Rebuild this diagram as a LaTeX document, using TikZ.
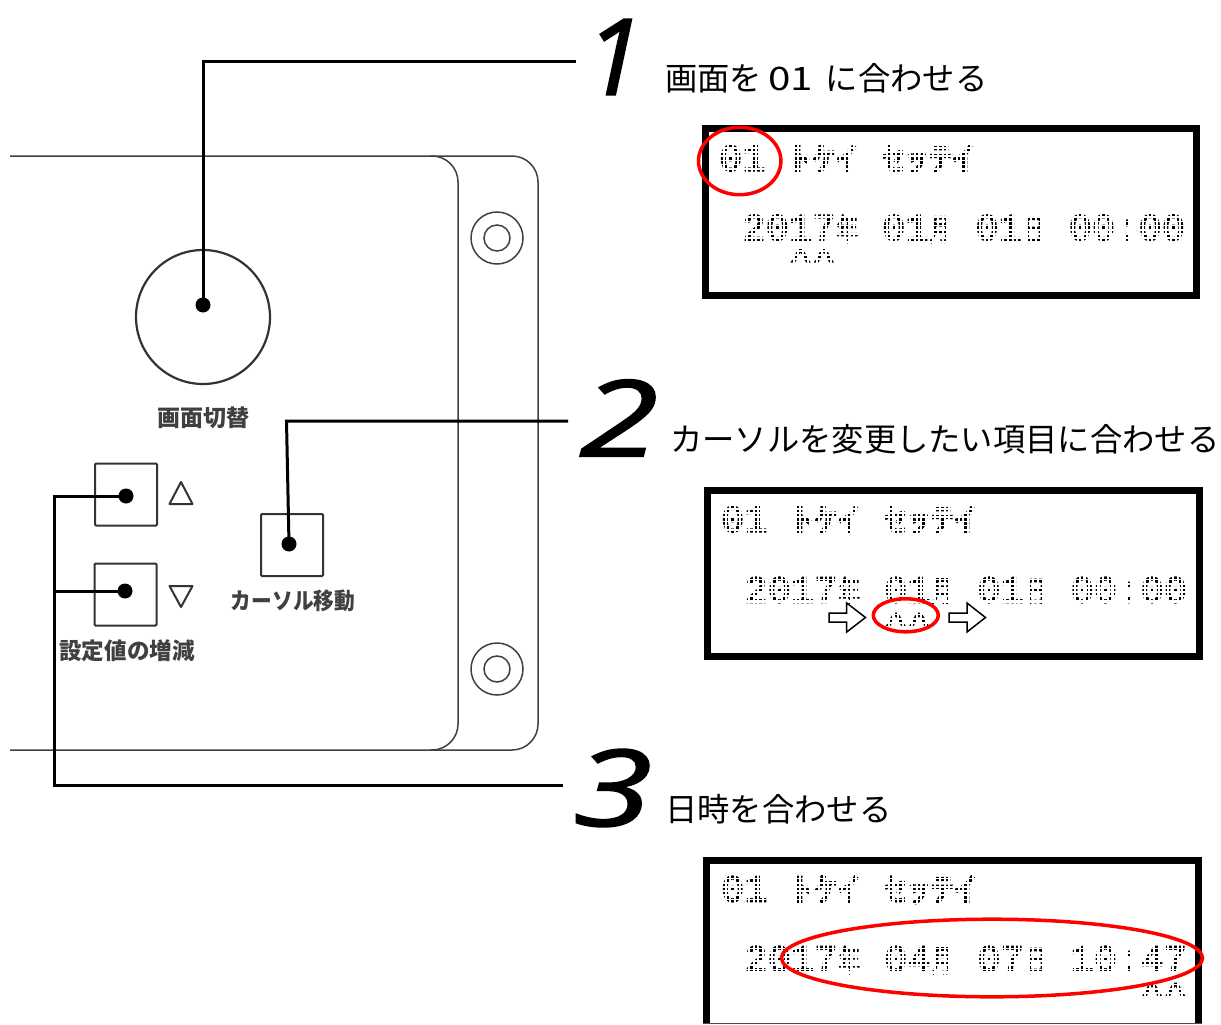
\documentclass[tikz,border=0pt]{standalone}
\usepackage{fontspec}
\usepackage{graphicx}
\setmainfont{Liberation Sans}
\newfontfamily\jpfont{Noto Sans CJK JP}
\newfontfamily\lcdjp[FakeBold=5]{Noto Sans CJK JP}
\newfontfamily\lcdmono[FakeBold=4]{Liberation Mono}
\newfontfamily\numfont[FakeBold=1.5]{Open Sans}
\newcommand{\wide}[1]{\scalebox{1.35}[1]{\fontsize{33}{33}\lcdjp #1}}
\newcommand{\kanji}[1]{\scalebox{0.72}[1]{\fontsize{30}{30}\lcdjp #1}}
\newcommand{\lcdrow}[4]{%
  \foreach \c/\t in {#4} {\node[lcdchar] (#1-\c) at ({#2+\c*23.3},{#3+12.5}) {\t};}}
\newcommand{\lcdcaret}[4]{%
  \foreach \c in {#4} {\node[lcdchar] (#1-\c) at ({#2+\c*23.3},{#3+15}) {\scalebox{1.35}[1]{\fontsize{28}{28}\lcdmono\textasciicircum}};}}
\newcommand{\lcdmask}[2]{%
  \foreach \k in {-1,...,99} {\draw[maskx] ({#1-2.33+\k*4.66},{#2-14}) -- ({#1-2.33+\k*4.66},{#2+14});}
  \foreach \k in {-4,...,3} {\draw[masky] ({#1-13},{#2+2.08+\k*4.17}) -- ({#1+455},{#2+2.08+\k*4.17});}}
\tikzset{
  lcdchar/.style={inner sep=0pt,outer sep=0pt,anchor=base,text=black,font=\fontsize{38}{38}\lcdmono},
  maskx/.style={white,line width=2.1pt},
  masky/.style={white,line width=1.7pt},
  lcdframe/.style={draw=black,line width=7pt,miter limit=10},
  redmark/.style={draw=red,line width=3.5pt},
  panel/.style={draw=black!75,line width=1.5pt,rounded corners=26pt},
  panelround/.style={draw=black!75,line width=1.5pt},
  btn/.style={draw=black!80,line width=2pt,rounded corners=1pt},
  tri/.style={draw=black!80,line width=2pt,line join=round},
  leader/.style={draw=black,line width=3pt,line join=miter},
  lead dot/.style={circle,fill=black,inner sep=0pt,minimum size=15pt},
  title/.style={inner sep=0pt,anchor=west,font=\fontsize{32.3}{33}\jpfont},
  caption/.style={inner sep=0pt,text=black!75,font=\fontsize{23}{24}\jpfont\bfseries},
  bignum/.style={inner sep=0pt,font=\fontsize{106}{106}\numfont\itshape},
  blockarrow/.style={draw=black,fill=white,line width=1.5pt,line join=miter}
}
\begin{document}
\begin{tikzpicture}[x=1pt,y=-1pt]
\useasboundingbox[fill=white] (0,0) rectangle (1221,1025);
% panel
\draw[panel] (10,156) -- (458,156) -- (458,750) -- (10,750);
\draw[panel] (430,156) -- (538,156) -- (538,750) -- (430,750);
\foreach \sy in {238,669} {
  \draw[panelround] (497,\sy) circle (26);
  \draw[panelround] (497,\sy) circle (13);
}
\draw[draw=black!80,line width=2.2pt] (203,317) circle (67);
\node[btn,minimum width=62pt,minimum height=62pt,inner sep=0pt] (btnup) at (126,494.5) {};
\node[btn,minimum width=62pt,minimum height=62pt,inner sep=0pt] (btndown) at (125.5,594.5) {};
\node[btn,minimum width=62pt,minimum height=62pt,inner sep=0pt] (btncur) at (292,545) {};
\draw[tri] (181,482) -- (192.5,504) -- (169.5,504) -- cycle;
\draw[tri] (181,607) -- (192.5,586) -- (169.5,586) -- cycle;
\node[caption] (capa) at (203.5,418) {画面切替};
\node[caption,xscale=0.9,transform shape] (capb) at (293,601) {カーソル移動};
\node[caption,xscale=0.98,transform shape] (capc) at (127,651) {設定値の増減};
% leaders
\node[lead dot] (dotscreen) at (203,305) {};
\node[lead dot] (dotup) at (126,496) {};
\node[lead dot] (dotdown) at (125,591) {};
\node[lead dot] (dotcur) at (289,544) {};
\coordinate (endone) at (576,62);
\coordinate (kneetwo) at (286.5,421);
\coordinate (endtwo) at (568,421);
\coordinate (kneeup) at (54,496);
\coordinate (kneedown) at (54,591);
\coordinate (kneethree) at (54,785);
\coordinate (endthree) at (563,785);
\draw[leader] (dotscreen.center) |- (endone);
\draw[leader] (dotcur.center) -- (kneetwo) -- (endtwo);
\draw[leader] (dotup.center) -- (kneeup) -- (kneethree) -- (endthree);
\draw[leader] (dotdown.center) -- (kneedown);
% numbers
\node[bignum] (numone) at (614,57) {1};
\node[bignum,xscale=1.35,transform shape] (numtwo) at (619,418) {2};
\node[bignum,xscale=1.35,transform shape] (numthree) at (613,788) {3};
% titles
\node[title] (titleone) at (665,78) {画面を\hspace{6pt}\scalebox{1.25}[1]{01}\hspace{13pt}に合わせる};
\node[title] (titletwo) at (670,439) {カーソルを変更したい項目に合わせる};
\node[title] (titlethree) at (665,809) {日時を合わせる};
% display 1
\lcdrow{aa}{730.7}{158.3}{0/0,1/1,3/\wide{ﾄ},4/\wide{ｹ},5/\wide{ｲ},7/\wide{ｾ},8/\wide{ｯ},9/\wide{ﾃ},10/\wide{ｲ}}
\lcdrow{ab}{730.7}{227.7}{1/2,2/0,3/1,4/7,5/\kanji{年},7/0,8/1,9/\kanji{月},11/0,12/1,13/\kanji{日},15/0,16/0,17/:,18/0,19/0}
\lcdcaret{ac}{730.7}{253}{3,4}
\lcdmask{730.7}{158.3}\lcdmask{730.7}{227.7}\lcdmask{730.7}{253}
\draw[lcdframe] (705.5,128.5) rectangle (1196.5,295.5);
\draw[redmark] (739.7,161) ellipse (41.2 and 33.7);
% display 2
\lcdrow{ba}{732.7}{519.3}{0/0,1/1,3/\wide{ﾄ},4/\wide{ｹ},5/\wide{ｲ},7/\wide{ｾ},8/\wide{ｯ},9/\wide{ﾃ},10/\wide{ｲ}}
\lcdrow{bb}{732.7}{590}{1/2,2/0,3/1,4/7,5/\kanji{年},7/0,8/1,9/\kanji{月},11/0,12/1,13/\kanji{日},15/0,16/0,17/:,18/0,19/0}
\lcdcaret{bc}{732.7}{616.7}{7,8}
\lcdmask{732.7}{519.3}\lcdmask{732.7}{590}\lcdmask{732.7}{616.7}
\draw[lcdframe] (707.5,490.5) rectangle (1199,656.5);
\draw[redmark] (905.8,615.3) ellipse (32.5 and 16.5);
\draw[blockarrow] (829,613) -- (846.7,613) -- (846.7,603) -- (865.5,617.5) -- (846.7,632) -- (846.7,622) -- (829,622) -- cycle;
\draw[blockarrow] (949,613) -- (967,613) -- (967,603) -- (985.5,617.5) -- (967,632) -- (967,622) -- (949,622) -- cycle;
% display 3
\lcdrow{ca}{732.7}{889}{0/0,1/1,3/\wide{ﾄ},4/\wide{ｹ},5/\wide{ｲ},7/\wide{ｾ},8/\wide{ｯ},9/\wide{ﾃ},10/\wide{ｲ}}
\lcdrow{cb}{732.7}{959}{1/2,2/0,3/1,4/7,5/\kanji{年},7/0,8/4,9/\kanji{月},11/0,12/7,13/\kanji{日},15/1,16/0,17/:,18/4,19/7}
\lcdcaret{cc}{732.7}{986.7}{18,19}
\lcdmask{732.7}{889}\lcdmask{732.7}{959}\lcdmask{732.7}{986.7}
\draw[lcdframe] (706.5,1023) -- (706.5,860.5) -- (1198.5,860.5) -- (1198.5,1023);
\draw[draw=black!70,line width=1pt] (703,1023) -- (1202,1023);
\draw[redmark] (992,958) ellipse (210.5 and 38.8);
\end{tikzpicture}
\end{document}
